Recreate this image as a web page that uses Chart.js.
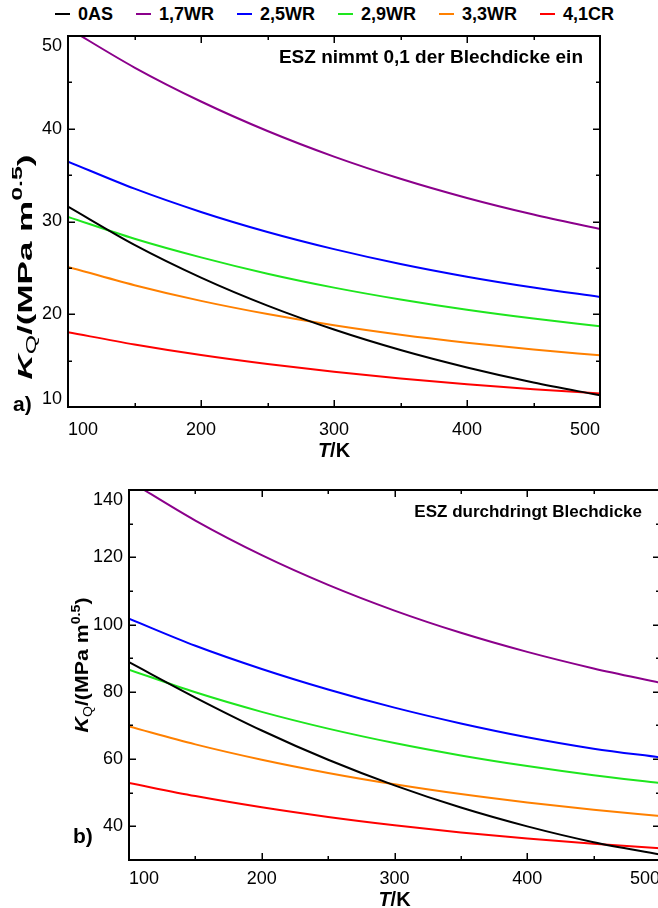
<!DOCTYPE html>
<html>
<head>
<meta charset="utf-8">
<script src="https://cdn.jsdelivr.net/npm/chart.js@4"></script>
<style>
  html, body { margin: 0; padding: 0; background: #fff; }
  #page { position: relative; width: 658px; height: 908px; overflow: hidden;
          font-family: "Liberation Sans", Arial, sans-serif; }
  #legend { position: absolute; left: 55px; top: 4px; display: flex;
            font-weight: bold; font-size: 18px; line-height: 20px; }
  .item { display: flex; align-items: center; margin-right: 23px; }
  .dash { width: 15px; height: 2px; margin-right: 8px; }
  canvas { position: absolute; left: 0; }
</style>
</head>
<body>
<div id="page">
  <div id="legend"></div>
  <canvas id="chartA" width="658" height="470" style="top:0"></canvas>
  <canvas id="chartB" width="700" height="438" style="top:470px"></canvas>
</div>
<script>
const FONT = '"Liberation Sans", Arial, sans-serif';

const temps = [100, 150, 200, 250, 300, 350, 400, 450, 500];
const alloys = ['0AS', '1,7WR', '2,5WR', '2,9WR', '3,3WR', '4,1CR'];
const colors = ['#000000', '#8b008b', '#0000ff', '#1ee61e', '#ff8000', '#ff0000'];

// ESZ takes 0,1 of the sheet thickness
const kqA_0AS  = [31.6, 27.48, 23.95, 20.93, 18.35, 16.14, 14.26, 12.64, 11.26];
const kqA_17WR = [50.84, 46.6, 42.94, 39.76, 37.0, 34.61, 32.54, 30.75, 29.19];
const kqA_25WR = [36.46, 33.54, 31.03, 28.87, 27.02, 25.42, 24.05, 22.88, 21.87];
const kqA_29WR = [30.5, 28.14, 26.13, 24.37, 22.87, 21.59, 20.48, 19.53, 18.71];
const kqA_33WR = [25.11, 23.13, 21.44, 20.02, 18.81, 17.79, 16.93, 16.19, 15.58];
const kqA_41CR = [18.06, 16.74, 15.6, 14.63, 13.79, 13.07, 12.45, 11.92, 11.46];

// ESZ through the whole sheet thickness
const kqB_0AS  = [88.8, 78.3, 68.5, 59.8, 52.2, 45.6, 40.0, 35.3, 31.65];
const kqB_17WR = [142.76, 130.9, 120.63, 111.79, 104.15, 97.55, 91.87, 86.95, 82.71];
const kqB_25WR = [101.75, 93.7, 86.8, 80.7, 75.3, 70.6, 66.5, 63.1, 60.5];
const kqB_29WR = [86.6, 79.85, 74.04, 69.06, 64.77, 61.08, 57.92, 55.19, 52.86];
const kqB_33WR = [69.7, 64.38, 59.81, 55.88, 52.5, 49.59, 47.1, 44.95, 43.1];
const kqB_41CR = [52.89, 49.0, 45.66, 42.79, 40.32, 38.2, 36.38, 34.81, 33.47];

const xTicks = [100, 200, 300, 400, 500];
const yTicksA = [10, 20, 30, 40, 50];
const yTicksB = [40, 60, 80, 100, 120, 140];

// legend row above the first panel
const legend = document.getElementById('legend');
alloys.forEach((name, i) => {
  const item = document.createElement('div');
  item.className = 'item';
  item.innerHTML = '<span class="dash" style="background:' + colors[i] + '"></span>' + name;
  legend.appendChild(item);
});

function measureParts(ctx, parts) {
  let w = 0;
  parts.forEach(p => { ctx.font = p.f; p.w = ctx.measureText(p.s).width; w += p.w; });
  return w;
}

function drawYTitle(ctx, t) {
  const parts = [
    {s: 'K', f: 'italic bold ' + t.size + 'px ' + FONT, dy: 0},
    {s: 'Q', f: t.sub + 'px ' + FONT, dy: t.size * 0.22},
    {s: '/(MPa m', f: 'bold ' + t.size + 'px ' + FONT, dy: 0},
    {s: '0.5', f: 'bold ' + t.sub + 'px ' + FONT, dy: -t.size * 0.45},
    {s: ')', f: 'bold ' + t.size + 'px ' + FONT, dy: 0}
  ];
  ctx.save();
  const w = measureParts(ctx, parts);
  ctx.translate(t.x, t.y);
  ctx.rotate(-Math.PI / 2);
  ctx.scale(t.length / w, 1);
  ctx.textBaseline = 'alphabetic';
  ctx.textAlign = 'left';
  let cx = -w / 2;
  parts.forEach(p => {
    ctx.font = p.f;
    ctx.fillText(p.s, cx, t.size * 0.36 + p.dy);
    cx += p.w;
  });
  ctx.restore();
}

function drawXTitle(ctx, cx, y, size) {
  const parts = [
    {s: 'T', f: 'italic bold ' + size + 'px ' + FONT},
    {s: '/K', f: 'bold ' + size + 'px ' + FONT}
  ];
  ctx.save();
  const w = measureParts(ctx, parts);
  ctx.textBaseline = 'middle';
  ctx.textAlign = 'left';
  let x = cx - w / 2;
  parts.forEach(p => { ctx.font = p.f; ctx.fillText(p.s, x, y); x += p.w; });
  ctx.restore();
}

// box frame, inward ticks on all four sides, titles and labels
const framePlugin = {
  id: 'frame',
  afterDatasetsDraw(chart, args, opts) {
    const {ctx, chartArea: a, scales: {x, y}} = chart;
    ctx.save();
    ctx.strokeStyle = '#000';
    ctx.fillStyle = '#000';
    ctx.lineWidth = 2;
    ctx.strokeRect(a.left, a.top, a.right - a.left, a.bottom - a.top);

    const withMinor = (scale, vals) => {
      const out = vals.map(v => ({v, len: 7}));
      for (let i = 0; i < vals.length - 1; i++) out.push({v: (vals[i] + vals[i + 1]) / 2, len: 4});
      const step = vals[1] - vals[0];
      const lo = vals[0] - step / 2, hi = vals[vals.length - 1] + step / 2;
      if (lo > scale.min) out.push({v: lo, len: 4});
      if (hi < scale.max) out.push({v: hi, len: 4});
      return out;
    };
    ctx.lineWidth = 1.5;
    ctx.beginPath();
    withMinor(x, x.ticks.map(t => t.value)).forEach(t => {
      const px = Math.round(x.getPixelForValue(t.v)) + 0.25;
      ctx.moveTo(px, a.bottom); ctx.lineTo(px, a.bottom - t.len);
      ctx.moveTo(px, a.top); ctx.lineTo(px, a.top + t.len);
    });
    withMinor(y, y.ticks.map(t => t.value)).forEach(t => {
      const py = Math.round(y.getPixelForValue(t.v)) + 0.25;
      ctx.moveTo(a.left, py); ctx.lineTo(a.left + t.len, py);
      ctx.moveTo(a.right, py); ctx.lineTo(a.right - t.len, py);
    });
    ctx.stroke();

    // y tick labels; the end labels are kept inside the axis span
    ctx.font = '18px ' + FONT;
    ctx.textAlign = 'right';
    y.ticks.forEach(t => {
      const py = y.getPixelForValue(t.value);
      ctx.textBaseline = t.value === y.max ? 'top' : t.value === y.min ? 'bottom' : 'middle';
      ctx.fillText(String(t.value), a.left - 6, t.value === y.max ? py + 1 : t.value === y.min ? py + 1 : py);
    });

    ctx.font = 'bold ' + opts.note.size + 'px ' + FONT;
    ctx.textAlign = 'right';
    ctx.textBaseline = 'middle';
    ctx.fillText(opts.note.text, opts.note.right, opts.note.y);

    ctx.font = 'bold 21px ' + FONT;
    ctx.textAlign = 'left';
    ctx.fillText(opts.letter.text, opts.letter.x, opts.letter.y);
    ctx.restore();

    drawXTitle(ctx, (a.left + a.right) / 2, opts.xTitle.y, opts.xTitle.size);
    drawYTitle(ctx, opts.yTitle);
  }
};

function makeChart(id, series, yMin, yMax, yTicks, pad, yWidth, xHeight, xPad, frame) {
  return new Chart(document.getElementById(id), {
    type: 'line',
    data: {
      datasets: series.map((vals, i) => ({
        label: alloys[i],
        data: temps.map((t, j) => ({x: t, y: vals[j]})),
        borderColor: colors[i],
        borderWidth: 2,
        pointRadius: 0,
        fill: false,
        cubicInterpolationMode: 'monotone'
      }))
    },
    options: {
      responsive: false,
      animation: false,
      events: [],
      layout: {padding: pad},
      plugins: {legend: {display: false}, tooltip: {enabled: false}, frame: frame},
      scales: {
        x: {
          type: 'linear', min: 100, max: 500,
          grid: {display: false, drawTicks: false},
          border: {display: false},
          afterBuildTicks: s => { s.ticks = xTicks.map(v => ({value: v})); },
          afterFit: s => { s.height = xHeight; },
          ticks: {align: 'inner', padding: xPad, color: '#000', font: {family: FONT, size: 18}, maxRotation: 0}
        },
        y: {
          type: 'linear', min: yMin, max: yMax,
          grid: {display: false, drawTicks: false},
          border: {display: false},
          afterBuildTicks: s => { s.ticks = yTicks.map(v => ({value: v})); },
          afterFit: s => { s.width = yWidth; },
          ticks: {display: false}
        }
      }
    },
    plugins: [framePlugin]
  });
}

makeChart('chartA',
  [kqA_0AS, kqA_17WR, kqA_25WR, kqA_29WR, kqA_33WR, kqA_41CR],
  10, 50, yTicksA,
  {left: 0, right: 58, top: 36, bottom: 0}, 68, 63, 12,
  {
    note: {text: 'ESZ nimmt 0,1 der Blechdicke ein', right: 583, y: 58, size: 19},
    letter: {text: 'a)', x: 13, y: 405},
    xTitle: {y: 451, size: 20},
    yTitle: {x: 24, y: 267, size: 21, sub: 15, length: 225}
  });

makeChart('chartB',
  [kqB_0AS, kqB_17WR, kqB_25WR, kqB_29WR, kqB_33WR, kqB_41CR],
  30, 140, yTicksB,
  {left: 0, right: 40, top: 20, bottom: 0}, 129, 48, 8,
  {
    note: {text: 'ESZ durchdringt Blechdicke', right: 642, y: 42, size: 17},
    letter: {text: 'b)', x: 73, y: 367},
    xTitle: {y: 430, size: 20},
    yTitle: {x: 82, y: 195, size: 18, sub: 12, length: 135}
  });
</script>
</body>
</html>
